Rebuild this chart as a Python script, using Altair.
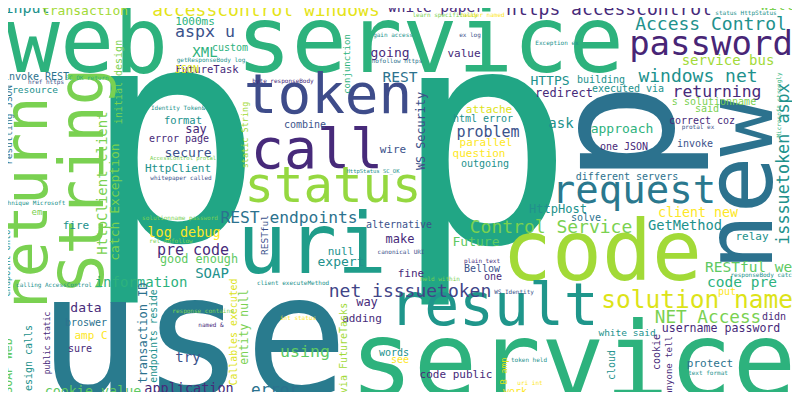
import altair as alt
import pandas as pd

# word cloud: word, x (center), y (baseline), font size, angle, colour
G="#2db27d"; GT="#21a685"; T="#21918c"; DT="#2c728e"; B="#3b528b"; P="#472a7a"
LG="#7ad151"; YG="#a2da37"; Y="#fde725"; Y2="#dde318"; GR="#5ec962"

cloud = [
("p",173,240,300,0,GT),("p",484,242,300,0,GT),("p",673,133,170,270,DT),
("use",193,396,172,0,"#297b8e"),("service",573,397,106,0,G),("service",430,72,92,0,G),
("web",87,72,90,0,G),("code",602,280,83,0,YG),("uri",312,273,83,0,"#1f9d8a"),
("new",772,185,95,270,DT),("return",47,205,60,270,LG),("String",103,180,62,270,LG),
("call",317,168,55,0,P),("token",328,113,56,0,"#3e4c8a"),("status",333,202,49,0,"#95d840"),
("result",494,325,58,0,"#1f968b"),("request",634,203,39,0,"#2a788e"),("password",711,55,34,0,"#482576"),
("solution name",697,308,24.5,0,Y2),("Access Control",711,30,18,0,T),
("accesscontrol windows",266,16,18,0,"#e5e419"),("https accesscontrol",609,15,18,0,P),
("windows net",698,82,18,0,T),("isssuetoken aspx",789,164,16.8,270,T),
("Control Service",551,233,18,0,LG),("net isssuetoken",410,297,18,0,"#414487"),
("NET Access",708,323,17.7,0,LG),("white paper",436,12,14.5,0,P),
("REST endpoints",289,223,16.3,0,DT),("log debug",184,237,13.5,0,Y),
("pre code",193,255,15,0,P),("good enough",199,263,11.8,0,GR),("SOAP",212,278,14,0,T),
("information",141,287,14,0,G),("cookie value",93,396,13.4,0,GR),
("application",189,393,13.5,0,P),("error",275,395,16,0,DT),("using",305,357,16.6,0,GR),
("returning",717,97,16.4,0,P),("service bus",728,65,14,0,YG),("input",27,13,15,0,T),
("transaction",85,15,13,0,YG),("aspx u",205,37,16.6,0,B),("XML",205,57,14,0,G),
("custom",230,51,10,0,G),("going",390,57,13,0,P),("value",464,57,11,0,P),
("1000ms",195,25,11,0,G),("FutureTask",207,73,10.5,0,P),("JSON",187,73,10,0,Y2),
("REST",400,82,14.5,0,DT),("invoke REST",36,80,10,0,DT),("resource",35,93,9.5,0,T),
("conjunction",350,64,9,270,G),("initial design",122,82,10,270,LG),
("resulting JSON",12,125,9.5,270,DT),("HttpClient client",107,183,14,270,LG),
("catch Exception",119,202,13,270,LG),("static String",248,135,8.5,270,YG),
("WS Security",425,131,11.8,270,B),("format",183,124,10.5,0,T),("say",196,133,12,0,P),
("error page",179,142,10,0,P),("secure",188,157,13,0,B),("HttpClient",178,172,11,0,T),
("combine",305,128,10,0,B),("wire",393,153,11,0,B),("HTTPS",550,85,13,0,T),
("building",601,83,10,0,T),("redirect",564,97,12,0,P),("executed via",628,92,10,0,T),
("s solutionname",714,105,10,0,LG),("said",707,112,10,0,LG),("attache",489,113,11,0,Y2),
("html error",483,122,10,0,T),("problem",488,137,15,0,B),("parallel",486,146,11,0,Y),
("question",479,157,11,0,Y),("outgoing",485,167,10,0,T),("ask",561,128,14,0,T),
("approach",622,133,13,0,G),("one JSON",624,150,10,0,P),("correct coz",702,124,10,0,P),
("invoke",695,147,10,0,B),("different servers",627,180,10,0,DT),("will",777,10,14,0,LG),
("HttpHost",558,213,12,0,T),("solve",586,221,10,0,DT),("client new",698,217,13.3,0,Y),
("GetMethod",685,230,13.7,0,T),("relay",752,240,11,0,T),("Future",476,246,13,0,GR),
("Bellow",482,272,10,0,B),("one",493,280,10,0,P),("RESTful web",753,272,14.5,0,GR),
("code pre",742,287,14.5,0,G),("put",727,295,10,0,Y),("didn t",780,320,10,0,P),
("username password",721,332,11.6,0,P),("white said",627,336,9.5,0,T),
("cookie",660,352,10,270,P),("anyone tell",672,366,9,270,P),("cloud",615,365,10,270,T),
("B amp",507,371,9,270,Y2),("protect",710,367,11,0,DT),("work",515,395,10,0,Y),
("code public",456,378,11,0,P),("alternative",399,228,10,0,B),("make",400,243,12,0,P),
("null",341,255,11,0,T),("expert",341,266,13,0,T),("fine",411,277,11,0,P),
("way",367,306,12,0,P),("adding",362,322,11,0,P),("words",394,356,10,0,T),("see",400,363,10,0,Y),
("try",188,362,14,0,B),("data",86,312,13,0,P),("broswer",86,326,10,0,DT),("amp C",91,339,11,0,Y),
("sure",80,352,10,0,P),("fire",76,229,11,0,T),("em",37,215,9,0,LG),
("transaction ID",147,333,12,270,DT),("endpoints reside",157,336,9.7,270,T),
("Callables executed",237,332,9.9,270,Y2),("entity null",248,327,11.4,270,LG),
("via FutureTasks",347,348,10,270,YG),("SOAP Web",12,366,11.5,270,GR),
("design calls",32,361,10,270,T),("public static",50,343,8,270,P),
("endpoint onto",10,263,8.5,270,T),("RESTful",268,235,9.5,270,B),
("technique Microsoft",31,205,6,0,T),("calling AccessControl",54,287,6,0,T),
("solutionname password",180,220,6,0,LG),("rel nofollow",171,243,6,0,LG),
("client executeMethod",293,285,6,0,T),("response contains",203,313,6,0,LG),
("int status",298,320,6,0,Y),("named &",211,327,6,0,P),("held within",440,281,6,0,LG),
("canonical URI",401,254,6,0,B),("plain text",482,263,6,0,P),("WS Identity",514,294,6,0,B),
("responseBody catch",763,277,6,0,T),("text format",708,375,6,0,T),("token held",529,362,6,0,T),
("uri int",530,385,6,0,Y),("Identity Token&",178,110,6,0,T),("AccessControl protal",183,160,5.5,0,LG),
("whitepaper called",181,180,6,0,B),("HttpStatus SC_OK",373,173,5.5,0,T),
("getResponseBody log",211,62,6,0,T),("byte responseBody",283,83,6,0,P),
("gain access",393,37,6,0,T),("ex log",470,37,6,0,B),("learn specifically",445,17,6,0,LG),
("header named",483,17,6,0,Y),("nofollow https",397,63,6,0,DT),("href https",46,84,6,0,B),
("SC_OK return",87,80,6,0,G),("Exception ex",557,45,6,0,T),("recommends using",736,6,6,0,T),
("status HttpStatus",746,15,6,0,T),("protal ex",698,129,6,0,B),("Microsoft strongly",781,105,6,270,G),
]

words = [c[0] for c in cloud]
xs = [c[1] for c in cloud]
ys = [c[2] for c in cloud]
sizes = [c[3] for c in cloud]
angles = [c[4] for c in cloud]
colors = [c[5] for c in cloud]

df = pd.DataFrame({"word": words, "x": xs, "y": ys, "size": sizes, "angle": angles, "color": colors})

chart = alt.Chart(df).mark_text(
    font="'DejaVu Sans Mono', 'Liberation Mono', monospace", align="center", baseline="alphabetic"
).encode(
    x=alt.X("x:Q", scale=alt.Scale(domain=[8, 792]), axis=None),
    y=alt.Y("y:Q", scale=alt.Scale(domain=[8, 392], reverse=True), axis=None),
    text="word:N",
    size=alt.Size("size:Q", scale=None),
    angle=alt.Angle("angle:Q", scale=None),
    color=alt.Color("color:N", scale=None),
).properties(
    width=784, height=384, autosize=alt.AutoSizeParams(type="none"), padding=0,
    background="white"
).configure_view(stroke=None)

chart.save("out.html", embed_options={"renderer": "svg", "actions": False})
